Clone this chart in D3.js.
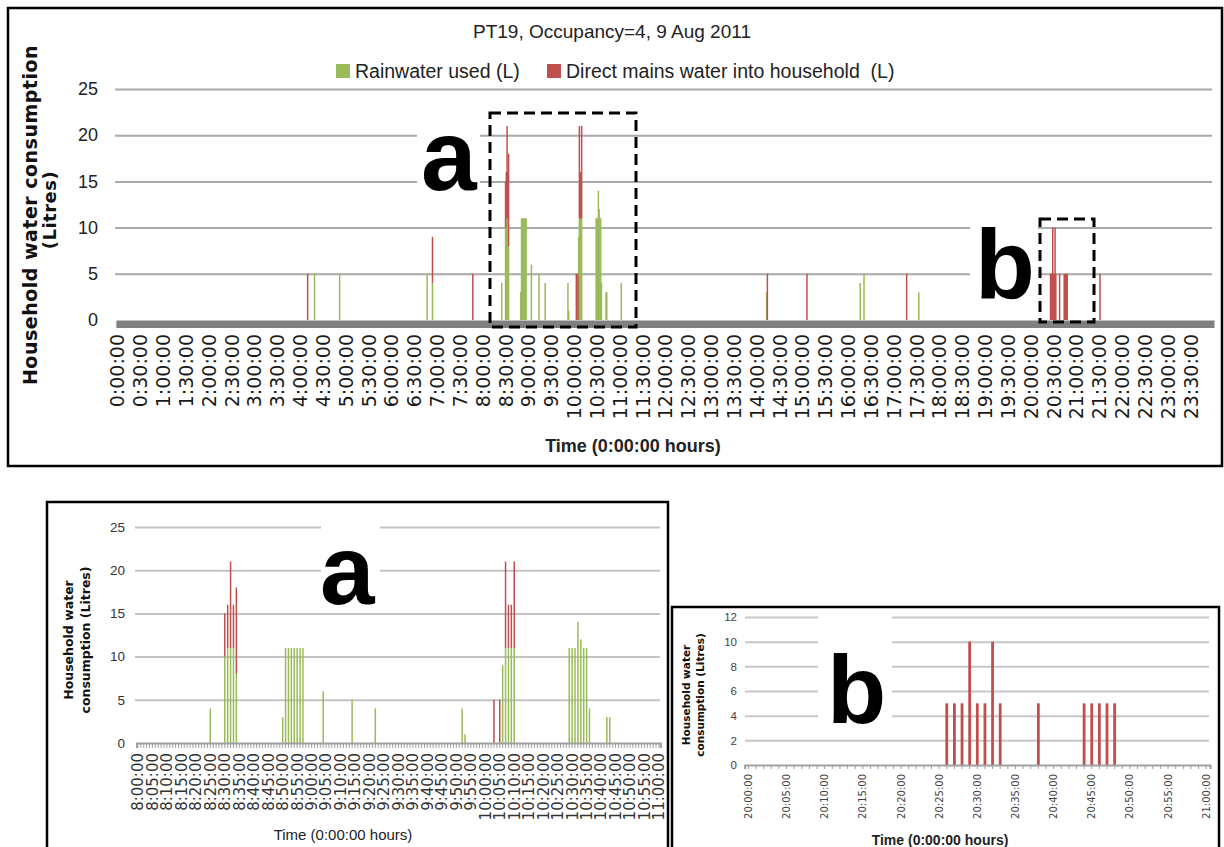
<!DOCTYPE html>
<html><head><meta charset="utf-8">
<script src="https://cdn.jsdelivr.net/npm/d3@7"></script>
<style>body{margin:0;background:#fff}svg{display:block}</style>
</head><body>
<svg id="c" width="1224" height="847"></svg>
<script>
// ---------------- DATA ----------------
const chartTitle = "PT19, Occupancy=4, 9 Aug 2011";
const legendLabels = ["Rainwater used (L)", "Direct mains water into household  (L)"];
const seriesKeys = ["rain", "mains"];

// events outside the two zoomed windows (whole-day chart)
const otherTimes = ["4:10","4:19","4:52","6:47","6:54","7:47","11:02","14:13","14:14","15:06","16:16","16:21","17:17","17:33","21:31"];
const otherRain  = [0,5,5,5,4,0,4,3,0,0,4,5,0,3,0];
const otherMains = [5,0,0,0,5,5,0,0,5,5,0,0,5,0,5];

// window a: 8:00 - 11:00
const aTimes = ["8:25","8:30","8:31","8:32","8:33","8:34","8:50","8:51","8:52","8:53","8:54","8:55","8:56","8:57","9:04","9:14","9:22","9:52","9:53","10:03","10:05","10:06","10:07","10:08","10:09","10:10","10:29","10:30","10:31","10:32","10:33","10:34","10:35","10:36","10:42","10:43"];
const aRain  = [4,10,11,11,11,8,3,11,11,11,11,11,11,11,6,5,4,4,1,0,0,9,11,11,11,11,11,11,11,14,12,11,11,4,3,3];
const aMains = [0,5,5,10,5,10,0,0,0,0,0,0,0,0,0,0,0,0,0,5,5,0,10,5,5,10,0,0,0,0,0,0,0,0,0,0];

// window b: 20:00 - 21:00
const bTimes = ["20:26","20:27","20:28","20:29","20:30","20:31","20:32","20:33","20:38","20:44","20:45","20:46","20:47","20:48"];
const bRain  = [0,0,0,0,0,0,0,0,0,0,0,0,0,0];
const bMains = [5,5,5,10,5,5,10,5,5,5,5,5,5,5];

// ticks
const topYTicks = [0,5,10,15,20,25];
const aYTicks = [0,5,10,15,20,25];
const bYTicks = [0,2,4,6,8,10,12];
const topXTicks = ["0:00:00","0:30:00","1:00:00","1:30:00","2:00:00","2:30:00","3:00:00","3:30:00","4:00:00","4:30:00","5:00:00","5:30:00","6:00:00","6:30:00","7:00:00","7:30:00","8:00:00","8:30:00","9:00:00","9:30:00","10:00:00","10:30:00","11:00:00","11:30:00","12:00:00","12:30:00","13:00:00","13:30:00","14:00:00","14:30:00","15:00:00","15:30:00","16:00:00","16:30:00","17:00:00","17:30:00","18:00:00","18:30:00","19:00:00","19:30:00","20:00:00","20:30:00","21:00:00","21:30:00","22:00:00","22:30:00","23:00:00","23:30:00"];
const aXTicks = ["8:00:00","8:05:00","8:10:00","8:15:00","8:20:00","8:25:00","8:30:00","8:35:00","8:40:00","8:45:00","8:50:00","8:55:00","9:00:00","9:05:00","9:10:00","9:15:00","9:20:00","9:25:00","9:30:00","9:35:00","9:40:00","9:45:00","9:50:00","9:55:00","10:00:00","10:05:00","10:10:00","10:15:00","10:20:00","10:25:00","10:30:00","10:35:00","10:40:00","10:45:00","10:50:00","10:55:00","11:00:00"];
const bXTicks = ["20:00:00","20:05:00","20:10:00","20:15:00","20:20:00","20:25:00","20:30:00","20:35:00","20:40:00","20:45:00","20:50:00","20:55:00","21:00:00"];
const xTitle = "Time (0:00:00 hours)";

// ---------------- HELPERS ----------------
const GREEN = "#9BBB59", RED = "#C0504D";
const SANS = "'Liberation Sans', Arial, sans-serif";
const DV = "'DejaVu Sans', Verdana, sans-serif";
const toMin = t => { const p = t.split(":").map(Number); return p[0] * 60 + p[1]; };
const rowsOf = (times, rain, mains, off) => times.map((t, i) => ({ m: toMin(t) - off, rain: rain[i], mains: mains[i] }));
const stack = d3.stack().keys(seriesKeys);
const svg = d3.select("#c");

function bars(g, rows, x, y, w) {
  g.selectAll("g.s").data(stack(rows)).join("g").attr("class", "s")
    .attr("fill", (d, i) => i === 0 ? GREEN : RED)
    .selectAll("rect").data(d => d.filter(p => p[1] > p[0])).join("rect")
    .attr("x", p => x(p.data.m) + x.bandwidth() / 2 - w / 2)
    .attr("width", w)
    .attr("y", p => y(p[1]))
    .attr("height", p => y(p[0]) - y(p[1]));
}
function grid(g, y, ticks, x0, x1, color) {
  const a = g.append("g").attr("transform", `translate(${x0},0)`)
    .call(d3.axisLeft(y).tickValues(ticks).tickSize(-(x1 - x0)).tickFormat(""));
  a.select(".domain").remove();
  a.selectAll("line").attr("stroke", color).attr("stroke-width", 2);
}
function yLabels(g, y, ticks, xr, size, color) {
  const a = g.append("g").attr("transform", `translate(${xr},0)`)
    .call(d3.axisLeft(y).tickValues(ticks).tickSize(0).tickPadding(0));
  a.select(".domain").remove();
  a.selectAll("text").attr("font-family", SANS).attr("font-size", size).attr("fill", color);
}
function minorAxis(g, x, n, y0, size, color, sw) {
  const a = g.append("g").attr("transform", `translate(0,${y0})`)
    .call(d3.axisBottom(x).tickValues(d3.range(n)).tickSize(size).tickFormat(""));
  a.select(".domain").attr("stroke", color).attr("stroke-width", 2);
  a.selectAll("line").attr("stroke", color).attr("stroke-width", sw || 1);
}
function xLabels(g, x, labels, off, y0, size, color) {
  const a = g.append("g").attr("transform", `translate(0,${y0})`)
    .call(d3.axisBottom(x).tickValues(labels.map(t => toMin(t) - off)).tickSize(0)
      .tickFormat(m => labels.find(t => toMin(t) - off === m)));
  a.select(".domain").remove();
  a.selectAll("text").attr("font-family", DV).attr("font-size", size).attr("fill", color)
    .attr("text-anchor", "end").attr("x", 0).attr("y", 0).attr("dy", "0.36em")
    .attr("transform", "rotate(-90)");
}
function rotText(g, txt, cx, cy, size, weight, fam, ls) {
  g.append("text").attr("transform", `translate(${cx},${cy}) rotate(-90)`)
    .attr("text-anchor", "middle").attr("font-family", fam).attr("font-size", size)
    .attr("font-weight", weight).attr("letter-spacing", ls || 0).attr("fill", "#111").text(txt);
}
function bigLetter(g, ch, x, y, size) {
  g.append("text").attr("x", x).attr("y", y).attr("font-family", SANS).attr("font-weight", "bold")
    .attr("font-size", size).attr("fill", "#000").text(ch);
}
function whiteBox(g, x, y, w, h) { g.append("rect").attr("x", x).attr("y", y).attr("width", w).attr("height", h).attr("fill", "#fff"); }

// ---------------- TOP CHART ----------------
{
  const g = svg.append("g");
  g.append("rect").attr("x", 8).attr("y", 8).attr("width", 1214).attr("height", 458)
    .attr("fill", "#fff").attr("stroke", "#000").attr("stroke-width", 2.5);
  const x = d3.scaleBand().domain(d3.range(1440)).range([117, 1213]);
  const y = d3.scaleLinear().domain([0, 25]).range([320, 89]);
  grid(g, y, topYTicks.slice(1), 115, 1212, "#A9A9A9");
  whiteBox(g, 417, 122, 63, 74);
  whiteBox(g, 970, 218, 68, 82);
  const rows = rowsOf(otherTimes, otherRain, otherMains, 0)
    .concat(rowsOf(aTimes, aRain, aMains, 0), rowsOf(bTimes, bRain, bMains, 0));
  bars(g.append("g"), rows, x, y, 1.5);
  minorAxis(g, x, 1440, 321, 7, "#808080", 1.6);
  yLabels(g, y, topYTicks, 98, 18, "#222");
  xLabels(g, x, topXTicks, 0, 334, 19, "#1a1a1a");
  g.append("text").attr("x", 612).attr("y", 38).attr("text-anchor", "middle")
    .attr("font-family", SANS).attr("font-size", 19).attr("fill", "#222").text(chartTitle);
  const lg = g.append("g");
  lg.append("rect").attr("x", 336).attr("y", 64).attr("width", 14).attr("height", 14).attr("fill", GREEN);
  lg.append("text").attr("x", 355).attr("y", 78).attr("font-family", SANS).attr("font-size", 19.5).attr("fill", "#222").text(legendLabels[0]);
  lg.append("rect").attr("x", 547).attr("y", 64).attr("width", 14).attr("height", 14).attr("fill", RED);
  lg.append("text").attr("x", 566).attr("y", 78).attr("font-family", SANS).attr("font-size", 19.5).attr("fill", "#222")
    .attr("xml:space", "preserve").text(legendLabels[1]);
  rotText(g, "Household water consumption", 37, 215, 19, "bold", DV, 0.5);
  rotText(g, "(Litres)", 56, 210, 18, "bold", DV, 0.5);
  g.append("text").attr("x", 633).attr("y", 452).attr("text-anchor", "middle").attr("font-family", SANS)
    .attr("font-size", 18).attr("font-weight", "bold").attr("fill", "#222").text(xTitle);
  g.append("rect").attr("x", 490).attr("y", 113).attr("width", 146).attr("height", 214)
    .attr("fill", "none").attr("stroke", "#000").attr("stroke-width", 3).attr("stroke-dasharray", "11,6");
  g.append("rect").attr("x", 1040).attr("y", 219).attr("width", 54).attr("height", 103)
    .attr("fill", "none").attr("stroke", "#000").attr("stroke-width", 3).attr("stroke-dasharray", "11,6");
  bigLetter(g, "a", 421, 190, 100);
  bigLetter(g, "b", 975, 298, 98);
}

// ---------------- PANEL A ----------------
{
  const g = svg.append("g");
  g.append("rect").attr("x", 47).attr("y", 502).attr("width", 621).attr("height", 400)
    .attr("fill", "#fff").attr("stroke", "#000").attr("stroke-width", 2.5);
  const x = d3.scaleBand().domain(d3.range(181)).range([136.5, 660.4]);
  const y = d3.scaleLinear().domain([0, 25]).range([743, 527]);
  grid(g, y, aYTicks.slice(1), 135, 660, "#C3C3C3");
  whiteBox(g, 321, 517, 59, 89);
  bars(g.append("g"), rowsOf(aTimes, aRain, aMains, 480), x, y, 1.5);
  minorAxis(g, x, 181, 743, 5, "#A0A0A0");
  yLabels(g, y, aYTicks, 125, 13.5, "#333");
  xLabels(g, x, aXTicks, 480, 753, 15, "#333");
  rotText(g, "Household water", 73, 640, 12.5, "bold", DV);
  rotText(g, "consumption (Litres)", 90, 640, 12.5, "bold", DV);
  g.append("text").attr("x", 343).attr("y", 840).attr("text-anchor", "middle").attr("font-family", SANS)
    .attr("font-size", 15).attr("fill", "#222").text(xTitle);
  bigLetter(g, "a", 320, 604, 98);
}

// ---------------- PANEL B ----------------
{
  const g = svg.append("g");
  g.append("rect").attr("x", 672).attr("y", 607).attr("width", 547).attr("height", 300)
    .attr("fill", "#fff").attr("stroke", "#000").attr("stroke-width", 2.5);
  const x = d3.scaleBand().domain(d3.range(61)).range([744.6, 1210]);
  const y = d3.scaleLinear().domain([0, 12]).range([765, 617]);
  grid(g, y, bYTicks.slice(1), 745, 1209, "#C8C8C8");
  whiteBox(g, 818, 612, 74, 116);
  bars(g.append("g"), rowsOf(bTimes, bRain, bMains, 1200), x, y, 2.8);
  minorAxis(g, x, 61, 765, 4, "#A0A0A0");
  yLabels(g, y, bYTicks, 737, 11.5, "#444");
  xLabels(g, x, bXTicks, 1200, 774, 10, "#444");
  rotText(g, "Household water", 690, 695, 10.5, "bold", DV);
  rotText(g, "consumption (Litres)", 704, 695, 10.5, "bold", DV);
  g.append("text").attr("x", 940).attr("y", 845).attr("text-anchor", "middle").attr("font-family", SANS)
    .attr("font-size", 14).attr("font-weight", "bold").attr("fill", "#222").text(xTitle);
  bigLetter(g, "b", 827, 723, 97);
}
</script>
</body></html>
